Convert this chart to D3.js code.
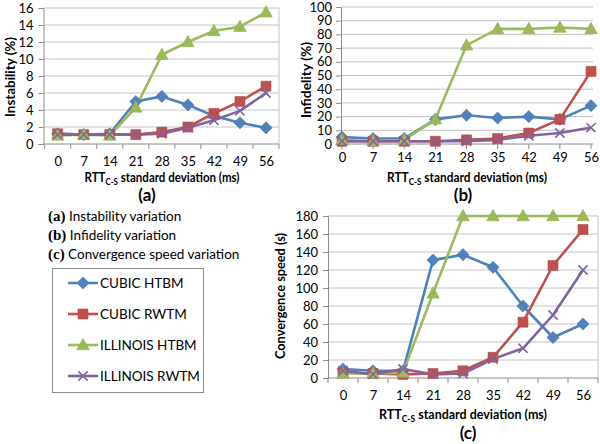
<!DOCTYPE html>
<html><head><meta charset="utf-8">
<script src="https://cdn.jsdelivr.net/npm/d3@7"></script>
<style>
body{margin:0;background:#fff}
svg{display:block}
text{font-family:Lato,'Open Sans',sans-serif;fill:#000}
</style>
</head><body>
<svg id="chart" width="600" height="444"></svg>
<script>
const categories = [0, 7, 14, 21, 28, 35, 42, 49, 56];
const seriesNames = ["CUBIC HTBM", "CUBIC RWTM", "ILLINOIS HTBM", "ILLINOIS RWTM"];
const seriesColors = ["#4F81BD", "#C0504D", "#9BBB59", "#8064A2"];

const instabilityCubicHTBM    = [1.2, 1.1, 1.2, 5.0, 5.6, 4.6, 3.3, 2.5, 1.9];
const instabilityCubicRWTM    = [1.2, 1.1, 1.1, 1.1, 1.4, 2.0, 3.6, 5.0, 6.8];
const instabilityIllinoisHTBM = [1.0, 1.1, 1.0, 4.3, 10.5, 12.0, 13.3, 13.8, 15.5];
const instabilityIllinoisRWTM = [1.1, 1.1, 1.1, 1.1, 1.2, 1.9, 2.8, 3.9, 6.0];

const infidelityCubicHTBM    = [5, 4, 4, 18, 21, 19, 20, 18, 28];
const infidelityCubicRWTM    = [2, 2, 2, 2, 3, 4, 8, 18, 53];
const infidelityIllinoisHTBM = [3, 2, 3, 18, 72, 84, 84, 85, 84];
const infidelityIllinoisRWTM = [2, 2, 2, 2, 2, 3, 6, 8, 12];

const convergenceCubicHTBM    = [10, 8, 8, 131, 137, 123, 80, 45, 60];
const convergenceCubicRWTM    = [6, 5, 4, 5, 8, 23, 62, 125, 165];
const convergenceIllinoisHTBM = [5, 5, 6, 94, 180, 180, 180, 180, 180];
const convergenceIllinoisRWTM = [8, 4, 10, 4, 5, 21, 33, 70, 120];

const instabilityTicks = [0, 2, 4, 6, 8, 10, 12, 14, 16];
const infidelityTicks = [0, 10, 20, 30, 40, 50, 60, 70, 80, 90, 100];
const convergenceTicks = [0, 20, 40, 60, 80, 100, 120, 140, 160, 180];

const captionLines = [["(a)", " Instability variation"], ["(b)", " Infidelity variation"], ["(c)", " Convergence speed variation"]];

const svg = d3.select("#chart");

// marker symbol types
const diamondType = {draw(ctx, s){ const r = Math.sqrt(s)/2*1.25; ctx.moveTo(0,-r); ctx.lineTo(r,0); ctx.lineTo(0,r); ctx.lineTo(-r,0); ctx.closePath(); }};
const squareType = {draw(ctx, s){ const r = Math.sqrt(s)/2; ctx.rect(-r,-r,2*r,2*r); }};
const triangleType = {draw(ctx, s){ const r = Math.sqrt(s)/2*1.15; ctx.moveTo(0,-r*1.05); ctx.lineTo(r,r*0.75); ctx.lineTo(-r,r*0.75); ctx.closePath(); }};
const xType = {draw(ctx, s){ const r = Math.sqrt(s)/2; ctx.moveTo(-r,-r); ctx.lineTo(r,r); ctx.moveTo(r,-r); ctx.lineTo(-r,r); }};
const markerTypes = [diamondType, squareType, triangleType, xType];
const markerSizes = [95, 100, 120, 85];

function drawMarker(g, i, x, y) {
  const p = d3.symbol().type(markerTypes[i]).size(markerSizes[i])();
  if (i === 3) {
    g.append("path").attr("d", p).attr("transform", `translate(${x},${y})`)
      .attr("fill", "none").attr("stroke", seriesColors[i]).attr("stroke-width", 1.6);
  } else {
    g.append("path").attr("d", p).attr("transform", `translate(${x},${y})`)
      .attr("fill", seriesColors[i]).attr("stroke", d3.color(seriesColors[i]).darker(0.2)).attr("stroke-width", 0.6);
  }
}

function axisTitle(x, y, len) {
  const t = svg.append("text").attr("x", x).attr("y", y).attr("text-anchor", "middle")
    .attr("font-weight", "bold").attr("font-size", 12.5)
    .attr("textLength", len).attr("lengthAdjust", "spacingAndGlyphs");
  t.append("tspan").text("RTT");
  t.append("tspan").attr("font-size", 8.5).attr("dy", 3).text("C-S");
  t.append("tspan").attr("dy", -3).text(" standard deviation (ms)");
}

function panel(cfg) {
  const g = svg.append("g");
  const x = d3.scalePoint().domain(categories).range(cfg.xRange).padding(cfg.padding);
  const y = d3.scaleLinear().domain([0, cfg.ticks[cfg.ticks.length - 1]]).range(cfg.yRange);
  const left = cfg.plotX[0], right = cfg.plotX[1];
  // gridlines
  g.append("g").selectAll("line").data(cfg.ticks.filter(d => d > 0)).join("line")
    .attr("x1", left).attr("x2", right).attr("y1", d => y(d)).attr("y2", d => y(d))
    .attr("stroke", "#c4c4c4").attr("stroke-width", 1);
  if (cfg.rightBorder) {
    g.append("line").attr("x1", right).attr("x2", right).attr("y1", y.range()[1]).attr("y2", y.range()[0])
      .attr("stroke", "#c4c4c4");
  }
  // y axis
  const ya = g.append("g").attr("transform", `translate(${left},0)`)
    .call(d3.axisLeft(y).tickValues(cfg.ticks).tickSize(5).tickPadding(cfg.yPad));
  ya.select(".domain").attr("stroke", "#8c8c8c");
  ya.selectAll(".tick line").attr("stroke", "#8c8c8c");
  ya.selectAll("text").attr("font-size", 13).attr("font-family", "Lato, sans-serif").attr("fill", "#000");
  // x axis
  const xa = g.append("g").attr("transform", `translate(0,${y(0)})`)
    .call(d3.axisBottom(x).tickSize(0).tickPadding(cfg.xPad).tickSizeOuter(0));
  xa.select(".domain").attr("d", `M${left},0H${right}`).attr("stroke", "#8c8c8c");
  xa.selectAll("text").attr("font-size", 13).attr("font-family", "Lato, sans-serif").attr("fill", "#000");
  let tickXs;
  if (cfg.padding > 0) {
    tickXs = categories.map(c => x(c) - x.step() / 2).concat([x(categories[categories.length - 1]) + x.step() / 2]);
  } else {
    tickXs = categories.map(c => x(c));
  }
  g.append("g").selectAll("line").data(tickXs).join("line")
    .attr("x1", d => d).attr("x2", d => d).attr("y1", y(0)).attr("y2", y(0) + 5)
    .attr("stroke", "#8c8c8c");
  // lines
  const line = d3.line().x((d, i) => x(categories[i])).y(d => y(d));
  cfg.series.forEach((s, i) => {
    g.append("path").datum(s).attr("d", line).attr("fill", "none")
      .attr("stroke", seriesColors[i]).attr("stroke-width", 2.6).attr("stroke-linejoin", "round");
  });
  cfg.series.forEach((s, i) => {
    s.forEach((v, j) => drawMarker(g, i, x(categories[j]), y(v)));
  });
  // y title
  svg.append("text").attr("transform", `translate(${cfg.yTitleX},${cfg.yTitleY}) rotate(-90)`)
    .attr("text-anchor", "middle").attr("dy", "0.35em").attr("font-weight", "bold").attr("font-size", 12.5)
    .attr("textLength", cfg.yTitleLen).attr("lengthAdjust", "spacingAndGlyphs")
    .text(cfg.yTitle);
  axisTitle(cfg.xTitle[0], cfg.xTitle[1], cfg.xTitle[2]);
  svg.append("text").attr("x", cfg.letter[0]).attr("y", cfg.letter[1]).attr("text-anchor", "middle")
    .attr("font-family", "'Liberation Serif', 'DejaVu Serif', serif").attr("font-weight", "bold").attr("font-size", 17)
    .text(cfg.letter[2]);
}

panel({
  xRange: [44.7, 279], padding: 0.5, plotX: [43.5, 279], rightBorder: true,
  yRange: [144, 8], ticks: instabilityTicks, yPad: 5, xPad: 13,
  series: [instabilityCubicHTBM, instabilityCubicRWTM, instabilityIllinoisHTBM, instabilityIllinoisRWTM],
  yTitle: "Instability (%)", yTitleX: 11, yTitleY: 77, yTitleLen: 80,
  xTitle: [162, 182, 155], letter: [147, 200.5, "(a)"]
});
panel({
  xRange: [342, 591], padding: 0, plotX: [341, 593], rightBorder: false,
  yRange: [144, 7], ticks: infidelityTicks, yPad: 4, xPad: 9,
  series: [infidelityCubicHTBM, infidelityCubicRWTM, infidelityIllinoisHTBM, infidelityIllinoisRWTM],
  yTitle: "Infidelity (%)", yTitleX: 307, yTitleY: 80, yTitleLen: 76,
  xTitle: [467, 182, 160], letter: [463, 200.5, "(b)"]
});
panel({
  xRange: [328, 598], padding: 0.5, plotX: [328, 598], rightBorder: true,
  yRange: [378, 216], ticks: convergenceTicks, yPad: 5, xPad: 13,
  series: [convergenceCubicHTBM, convergenceCubicRWTM, convergenceIllinoisHTBM, convergenceIllinoisRWTM],
  yTitle: "Convergence speed (s)", yTitleX: 281, yTitleY: 296, yTitleLen: 126,
  xTitle: [463, 419, 168], letter: [468, 439, "(c)"]
});

// captions
captionLines.forEach((c, i) => {
  const t = svg.append("text").attr("x", 48).attr("y", 221 + i * 19).attr("font-size", 13.5);
  t.append("tspan").attr("font-family", "'Liberation Serif', serif").attr("font-weight", "bold").attr("font-size", 15).text(c[0]);
  t.append("tspan").text(c[1]);
});

// legend
const lg = svg.append("g");
lg.append("rect").attr("x", 52.5).attr("y", 268.5).attr("width", 151).attr("height", 124)
  .attr("fill", "#fff").attr("stroke", "#8c8c8c").attr("stroke-width", 1);
seriesNames.forEach((n, i) => {
  const yy = 283 + i * 31;
  lg.append("line").attr("x1", 68).attr("x2", 98).attr("y1", yy).attr("y2", yy)
    .attr("stroke", seriesColors[i]).attr("stroke-width", 2.6);
  drawMarker(lg, i, 83, yy);
  lg.append("text").attr("x", 100).attr("y", yy).attr("dy", "0.36em").attr("font-size", 13.5).text(n);
});
</script>
</body></html>
